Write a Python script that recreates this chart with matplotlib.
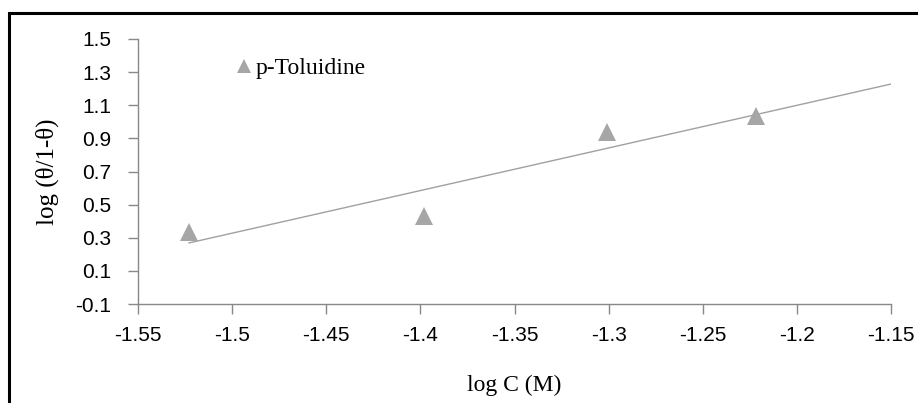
import numpy as np
import matplotlib
matplotlib.use("Agg")
import matplotlib.pyplot as plt
from matplotlib.patches import Rectangle

log_c = [-1.5229, -1.3979, -1.3010, -1.2218]
log_theta = [0.336, 0.431, 0.938, 1.037]
series_name = "p-Toluidine"
x_ticks = [-1.55, -1.5, -1.45, -1.4, -1.35, -1.3, -1.25, -1.2, -1.15]
y_ticks = [-0.1, 0.1, 0.3, 0.5, 0.7, 0.9, 1.1, 1.3, 1.5]

W, H = 918, 403
fig = plt.figure(figsize=(W / 100, H / 100), dpi=100)
ax = fig.add_axes([138 / W, 1 - 304 / H, (891 - 138) / W, (304 - 39) / H])

grey = "#A6A6A6"
# trendline (linear regression) extended to -1.15
slope, inter = np.polyfit(log_c, log_theta, 1)
xl = np.array([log_c[0], x_ticks[-1]])
ax.plot(xl, slope * xl + inter, color="#A0A0A0", lw=1.0, zorder=2)
ax.plot(log_c, log_theta, linestyle="none", marker="^", ms=13.5, color=grey,
        markeredgewidth=0, zorder=3)

ax.set_xlim(x_ticks[0], x_ticks[-1])
ax.set_ylim(y_ticks[0], y_ticks[-1])
ax.set_xticks(x_ticks)
ax.set_yticks(y_ticks)
ax.set_xticklabels([f"{v:g}" for v in x_ticks])
ax.set_yticklabels([f"{v:g}" for v in y_ticks])
for s in ["top", "right"]:
    ax.spines[s].set_visible(False)
for s in ["left", "bottom"]:
    ax.spines[s].set_color("#888888")
    ax.spines[s].set_linewidth(1.0)
ax.tick_params(axis="both", direction="out", length=7, width=1.0, color="#888888",
               labelsize=15, labelcolor="black")
for lab in ax.get_xticklabels() + ax.get_yticklabels():
    lab.set_family("Liberation Sans")
ax.tick_params(axis="x", pad=9)
ax.tick_params(axis="y", pad=12)

ax.set_xlabel("log C (M)", family="Liberation Serif", fontsize=17, labelpad=21)
ax.set_ylabel("log (θ/1-θ)", family="Liberation Serif", fontsize=18, labelpad=12)

# legend
ax.plot([], [], linestyle="none", marker="^", ms=10, color=grey, markeredgewidth=0,
        label=series_name)
handles, labels = ax.get_legend_handles_labels()
leg = ax.legend(handles[-1:], labels[-1:], loc="center left", bbox_to_anchor=(0.094, 0.89),
                frameon=False, handletextpad=-0.1, handlelength=1.2, borderpad=0.4,
                prop={"family": "Liberation Serif", "size": 17})

# outer frame
fig.patches.append(Rectangle((9 / W, -0.1), 1.2, 1 - 13 / H + 0.1, transform=fig.transFigure,
                             fill=False, edgecolor="black", linewidth=2.2))

fig.savefig("out.png", dpi=100)
